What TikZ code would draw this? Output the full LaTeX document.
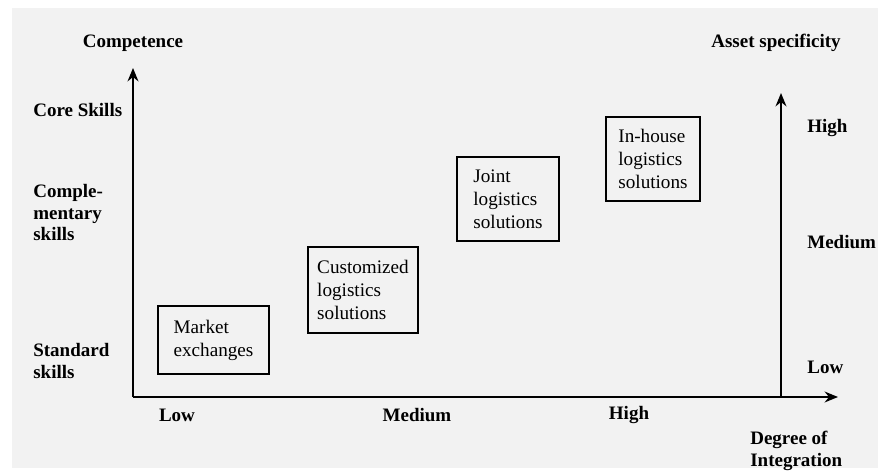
\documentclass[tikz,border=0pt]{standalone}
\usepackage{fontspec}
\setmainfont{Liberation Serif}
\usetikzlibrary{arrows.meta}

\begin{document}
\begin{tikzpicture}[x=0.6pt,y=-0.6pt,
	lbl/.style={font=\fontsize{11.4}{13}\selectfont\bfseries,inner sep=0pt,align=left},
	box/.style={shape=rectangle,draw=black,line width=1.3pt,align=left,inner sep=0pt,font=\fontsize{11.5}{13.8}\selectfont},
	axis/.style={line width=1.3pt,-{Stealth[length=8pt,width=6.5pt]}}]
	\useasboundingbox (0,0) rectangle (878,474);
	\fill[black!5] (12,8) rectangle (878,468);

	% axes
	\coordinate (o)    at (133,397);
	\coordinate (ytip) at (133,68);
	\coordinate (xtip) at (838,397);
	\coordinate (r)    at (781,397);
	\coordinate (rtip) at (781,93);

	\draw[axis] (o) -- (ytip);
	\draw[axis] (o) -- (xtip);
	\draw[axis] (r) -- (rtip);

	% axis labels
	\node[lbl] (comp) at (133,43) {Competence};
	\node[lbl,anchor=west] (core) at (33,110) {Core Skills};
	\node[lbl,anchor=north west] (compl) at (33,184) {Comple-\\mentary\\skills};
	\node[lbl,anchor=north west] (std) at (33,343) {Standard\\skills};

	\node[lbl] (xlow)  at (177,415) {Low};
	\node[lbl] (xmed)  at (417,415) {Medium};
	\node[lbl] (xhigh) at (629,415) {High};
	\node[lbl,anchor=north west] (deg) at (750,431) {Degree of\\Integration};

	\node[lbl] (asset) at (776,43) {Asset specificity};
	\node[lbl,anchor=west] (rhigh) at (807,128) {High};
	\node[lbl,anchor=west] (rmed)  at (807,242) {Medium};
	\node[lbl,anchor=west] (rlow)  at (807,367) {Low};

	% solutions
	\node[box,minimum width=66.6pt,minimum height=40.8pt] (market) at (213.5,340) {Market\\exchanges};
	\node[box,minimum width=66pt,minimum height=51.6pt] (custom) at (363,290) {Customized\\logistics\\solutions};
	\node[box,minimum width=61.2pt,minimum height=50.4pt] (joint) at (508,199) {Joint\\logistics\\solutions};
	\node[box,minimum width=56.4pt,minimum height=50.4pt] (inhouse) at (653,159) {In-house\\logistics\\solutions};

\end{tikzpicture}
\end{document}
